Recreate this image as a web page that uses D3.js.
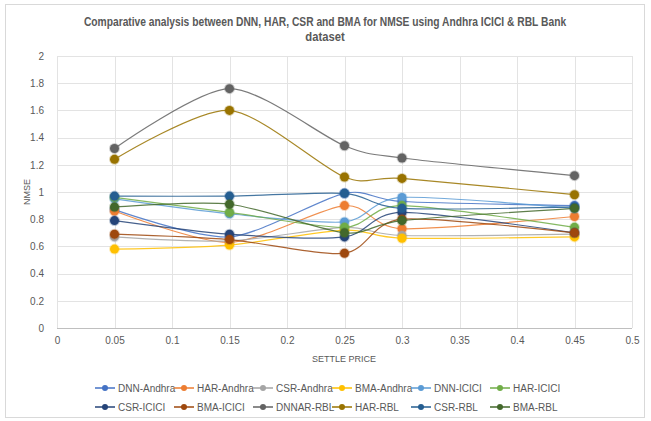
<!DOCTYPE html>
<html>
<head>
<meta charset="utf-8">
<script src="https://cdn.jsdelivr.net/npm/d3@7"></script>
<style>
  body { margin: 0; background: #fff; }
  svg text { font-family: "Liberation Sans", Arial, sans-serif; fill: #595959; }
</style>
</head>
<body>
<svg width="651" height="421"></svg>
<script>
// chart data
const settlePrice = [0.05, 0.15, 0.25, 0.3, 0.45];
const seriesNames = ["DNN-Andhra", "HAR-Andhra", "CSR-Andhra", "BMA-Andhra", "DNN-ICICI", "HAR-ICICI",
  "CSR-ICICI", "BMA-ICICI", "DNNAR-RBL", "HAR-RBL", "CSR-RBL", "BMA-RBL"];
const dnnAndhra = [0.87, 0.67, 0.99, 0.93, 0.90];
const harAndhra = [0.86, 0.63, 0.90, 0.73, 0.82];
const csrAndhra = [0.67, 0.64, 0.74, 0.68, 0.69];
const bmaAndhra = [0.58, 0.61, 0.72, 0.66, 0.67];
const dnnIcici = [0.95, 0.84, 0.78, 0.96, 0.88];
const harIcici = [0.96, 0.85, 0.74, 0.90, 0.74];
const csrIcici = [0.79, 0.69, 0.67, 0.85, 0.70];
const bmaIcici = [0.69, 0.65, 0.55, 0.80, 0.70];
const dnnarRbl = [1.32, 1.76, 1.34, 1.25, 1.12];
const harRbl = [1.24, 1.60, 1.11, 1.10, 0.98];
const csrRbl = [0.97, 0.97, 0.99, 0.88, 0.89];
const bmaRbl = [0.89, 0.91, 0.70, 0.79, 0.88];
const seriesValues = [dnnAndhra, harAndhra, csrAndhra, bmaAndhra, dnnIcici, harIcici,
  csrIcici, bmaIcici, dnnarRbl, harRbl, csrRbl, bmaRbl];
const xTicks = [0, 0.05, 0.1, 0.15, 0.2, 0.25, 0.3, 0.35, 0.4, 0.45, 0.5];
const yTicks = [0, 0.2, 0.4, 0.6, 0.8, 1, 1.2, 1.4, 1.6, 1.8, 2];

// excel office palette
const colors = ["#4472C4", "#ED7D31", "#A5A5A5", "#FFC000", "#5B9BD5", "#70AD47",
  "#264478", "#9E480E", "#636363", "#997300", "#255E91", "#43682B"];

const svg = d3.select("svg");
const plotLeft = 57, plotRight = 632, plotTop = 56, plotBottom = 328;

// chart border
svg.append("rect")
  .attr("x", 5.5).attr("y", 4.5)
  .attr("width", 639).attr("height", 413)
  .attr("fill", "#fff")
  .attr("stroke", "#d9d9d9");

const x = d3.scaleLinear().domain([0, 0.5]).range([plotLeft, plotRight]);
const y = d3.scaleLinear().domain([0, 2]).range([plotBottom, plotTop]);

// gridlines
svg.append("g")
  .selectAll("line")
  .data(yTicks)
  .enter()
  .append("line")
  .attr("x1", plotLeft).attr("x2", plotRight)
  .attr("y1", d => Math.round(y(d)) + 0.5)
  .attr("y2", d => Math.round(y(d)) + 0.5)
  .attr("stroke", d => d === 0 ? "#bfbfbf" : "#e3e3e3");
svg.append("g")
  .selectAll("line")
  .data(xTicks)
  .enter()
  .append("line")
  .attr("y1", plotTop).attr("y2", plotBottom)
  .attr("x1", d => Math.round(x(d)) + 0.5)
  .attr("x2", d => Math.round(x(d)) + 0.5)
  .attr("stroke", "#e3e3e3");

// axes (labels only)
const yAxis = svg.append("g")
  .attr("transform", "translate(" + (plotLeft - 10) + ",0)")
  .call(d3.axisLeft(y).tickValues(yTicks).tickSize(0).tickFormat(d3.format("~g")));
const xAxis = svg.append("g")
  .attr("transform", "translate(0," + (plotBottom + 6) + ")")
  .call(d3.axisBottom(x).tickValues(xTicks).tickSize(0).tickFormat(d3.format("~g")));
[yAxis, xAxis].forEach(a => {
  a.select(".domain").remove();
  a.selectAll("text").attr("font-size", 10).attr("font-family", null).style("fill", "#595959");
});

// chart title, squeezed horizontally to the reference width
const titleLines = ["Comparative analysis between DNN, HAR, CSR and BMA for NMSE using Andhra ICICI & RBL Bank", "dataset"];
titleLines.forEach((t, i) => {
  const g = svg.append("g");
  const txt = g.append("text")
    .attr("text-anchor", "middle")
    .attr("font-size", 12.5).attr("font-weight", "bold")
    .text(t);
  const k = i === 0 ? Math.min(1, 483 / txt.node().getComputedTextLength()) : 0.9;
  g.attr("transform", "translate(325," + (26 + i * 15) + ") scale(" + k + ",1)");
});

svg.append("text")
  .attr("transform", "translate(30," + ((plotTop + plotBottom) / 2) + ") rotate(-90)")
  .attr("text-anchor", "middle")
  .attr("font-size", 9)
  .text("NMSE");
svg.append("text")
  .attr("x", 344).attr("y", 362)
  .attr("text-anchor", "middle")
  .attr("font-size", 9)
  .text("SETTLE PRICE");

// series lines and markers
const line = d3.line()
  .x((d, i) => x(settlePrice[i]))
  .y(d => y(d))
  .curve(d3.curveCardinal.tension(0.2));

const series = svg.selectAll(".series")
  .data(seriesValues)
  .enter()
  .append("g")
  .attr("class", "series");
series.append("path")
  .attr("d", line)
  .attr("fill", "none")
  .attr("stroke", (d, i) => colors[i])
  .attr("stroke-width", 1.2)
  .attr("stroke-opacity", 0.85);
series.selectAll("circle")
  .data((d, i) => d.map(v => ({ v: v, c: colors[i] })))
  .enter()
  .append("circle")
  .attr("cx", (d, i) => x(settlePrice[i]))
  .attr("cy", d => y(d.v))
  .attr("r", 4.5)
  .attr("fill", d => d.c)
  .attr("stroke", d => d.c)
  .attr("stroke-opacity", 0.3)
  .attr("stroke-width", 2);

// legend
const legend = svg.selectAll(".legend-key")
  .data(seriesNames)
  .enter()
  .append("g")
  .attr("class", "legend-key")
  .attr("transform", (d, i) => "translate(" + (95 + (i % 6) * 79) + "," + (388 + Math.floor(i / 6) * 19) + ")");
legend.append("line")
  .attr("x1", 0).attr("x2", 20)
  .attr("stroke", (d, i) => colors[i])
  .attr("stroke-width", 1.5);
legend.append("circle")
  .attr("cx", 10).attr("r", 3)
  .attr("fill", (d, i) => colors[i]);
legend.append("text")
  .attr("x", 23).attr("y", 4)
  .attr("font-size", 10)
  .text(d => d);
</script>
</body>
</html>
